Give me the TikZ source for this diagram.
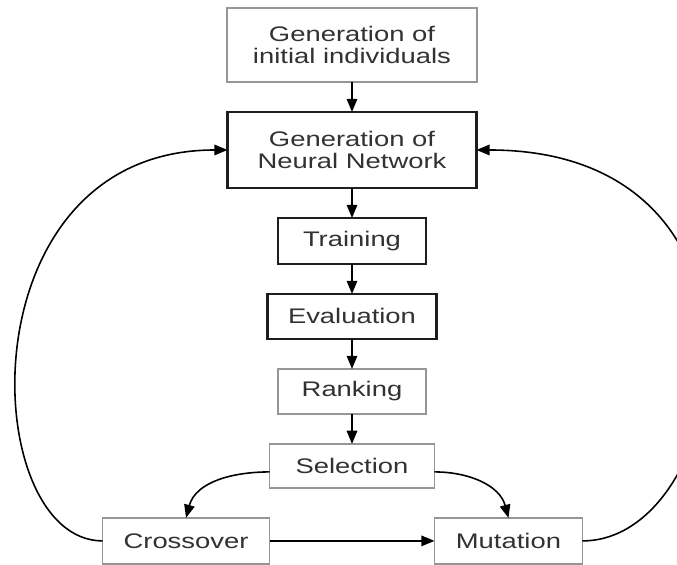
\documentclass[tikz,border=0pt]{standalone}
\usepackage{fontspec}
\setmainfont{Liberation Sans}[FakeStretch=1.3]
\usetikzlibrary{arrows.meta, positioning}
\definecolor{framegray}{RGB}{150,150,150}
\definecolor{framedark}{RGB}{30,30,30}
\definecolor{textgray}{RGB}{50,50,50}
\tikzset{
  block/.style={rectangle, draw=framegray, line width=0.8pt, fill=white, outer sep=0pt,
                align=center, text=textgray, font=\fontsize{12}{12.5}\selectfont},
  mainblock/.style={block, draw=framedark, line width=1.6pt},
  arrow/.style={-{Triangle[length=7.5pt, width=6pt]}, line width=0.9pt, color=black},
}

\begin{document}
\begin{tikzpicture}[x=0.02cm, y=-0.02cm, node distance=0.6cm]
        \useasboundingbox (0,0) rectangle (677,565);
        \node[block, minimum width=5cm, minimum height=1.48cm] (init) at (352,45)
              {Generation of\\initial individuals};
        \node[mainblock, below=of init, minimum width=4.98cm, minimum height=1.52cm] (gnn)
              {Generation of\\Neural Network};
        \node[mainblock, below=of gnn, minimum width=2.96cm, minimum height=0.92cm] (train) {Training};
        \node[mainblock, below=of train, minimum width=3.38cm, minimum height=0.9cm] (eval) {Evaluation};
        \node[block, below=of eval, minimum width=2.96cm, minimum height=0.9cm] (rank) {Ranking};
        \node[block, below=of rank, minimum width=3.3cm, minimum height=0.88cm] (sel) {Selection};
        \node[block, below left=0.6cm and 0cm of sel, minimum width=3.34cm, minimum height=0.92cm] (cross) {Crossover};
        \node[block, below right=0.6cm and 0cm of sel, minimum width=2.96cm, minimum height=0.92cm] (mut) {Mutation};
        % main flow
        \draw[arrow] (init) -- (gnn);
        \draw[arrow] (gnn) -- (train);
        \draw[arrow] (train) -- (eval);
        \draw[arrow] (eval) -- (rank);
        \draw[arrow] (rank) -- (sel);
        % genetic operators
        \draw[arrow] ([yshift=-0.12cm]sel.west) to[out=180, in=75] (cross.north);
        \draw[arrow] ([yshift=-0.12cm]sel.east) to[out=0, in=105] (mut.north);
        \draw[arrow] (cross) -- (mut);
        % back to the network generation
        \draw[arrow] (cross.west) .. controls +(-125,0) and +(-265,0) .. (gnn.west);
        \draw[arrow] (mut.east) .. controls +(150,0) and +(320,0) .. (gnn.east);
      \end{tikzpicture}
\end{document}
